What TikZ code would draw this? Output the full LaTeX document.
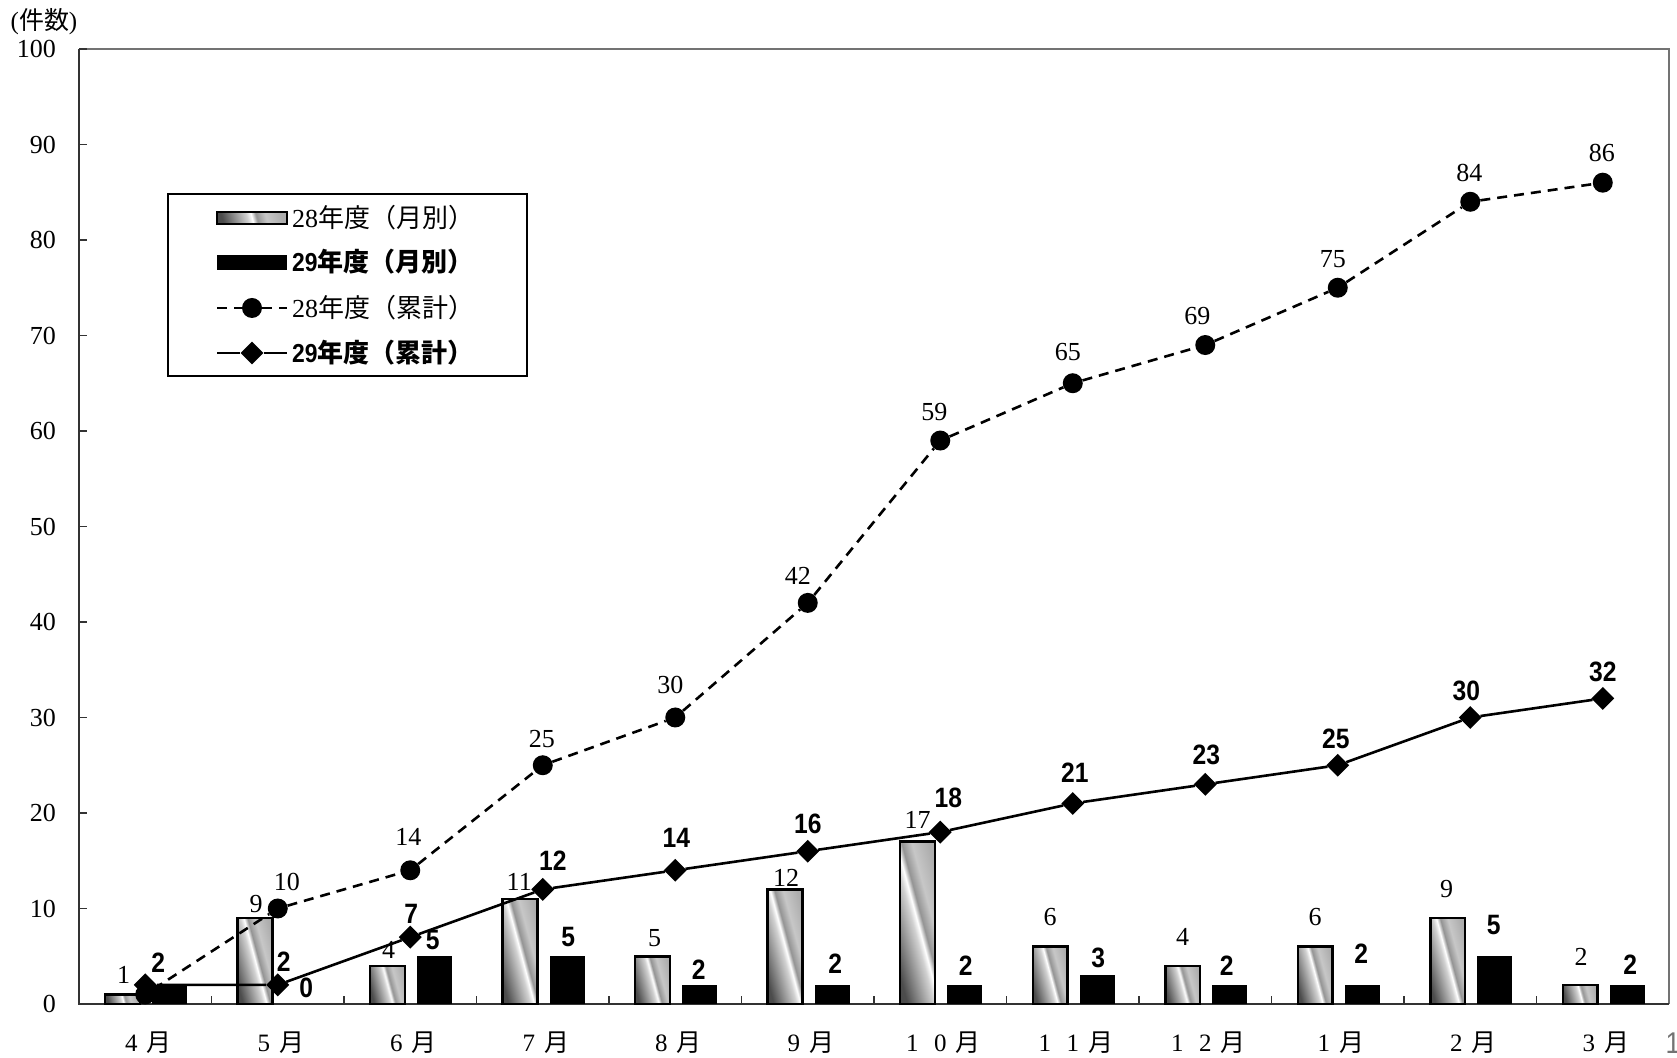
\documentclass[tikz,border=0pt]{standalone}
\usepackage{fontspec}
\setmainfont{Liberation Serif}
\newfontfamily\jpfont{Noto Sans CJK JP}
\newfontfamily\gothnum{Liberation Sans}[FakeStretch=0.88]
\usetikzlibrary{positioning,shapes.geometric}

\pgfdeclarehorizontalshading{metal}{100bp}{color(0bp)=(black!75); color(25bp)=(black!70); color(38bp)=(black!38); color(46bp)=(black!18); color(50bp)=(white); color(54bp)=(black!42); color(62bp)=(black!22); color(75bp)=(black!32); color(100bp)=(black!32)}

\newcommand\fw[1]{\makebox[28pt]{#1}}

\tikzset{
  bar28/.style={draw=black, line width=2.5pt, shading=metal, shading angle=15},
  bar29/.style={fill=black},
  dot/.style={circle, fill=black, inner sep=0pt, minimum size=20pt},
  dmd/.style={diamond, fill=black, inner sep=0pt, minimum size=23pt},
  cum28/.style={line width=2.6pt, dash pattern=on 10pt off 7pt},
  cum29/.style={line width=2.6pt},
  num28/.style={font=\fontsize{26}{28}\selectfont, inner sep=0pt, on grid},
  num29/.style={font=\gothnum\bfseries\fontsize{28}{30}\selectfont, inner sep=0pt, on grid},
  ylab/.style={anchor=east, font=\fontsize{26}{28}\selectfont, inner sep=0pt},
  mlab/.style={font=\fontsize{25}{27}\selectfont, inner sep=0pt},
  legtext/.style={anchor=west, inner sep=0pt, font=\fontsize{26}{28}\selectfont}
}

\begin{document}
\begin{tikzpicture}[x=1pt, y=1pt]
  \useasboundingbox (0,0) rectangle (1677,1057);

  % frame and axes
  \draw[line width=2pt, black!55] (79,1008) -- (1669,1008) -- (1669,53);
  \draw[line width=2pt, black!80] (79,1008) -- (79,53) -- (1669,53);
  \foreach \k in {1,...,10}
    \draw[line width=1.5pt, black!80] (79,53+95.5*\k) -- (87,53+95.5*\k);
  \foreach \k in {1,...,11}
    \draw[line width=1.5pt, black!80] (79+132.5*\k,53) -- (79+132.5*\k,61);

  \draw
    (56,53) node[ylab] (y0){0}
    (56,148.5) node[ylab] (y1){10}
    (56,244) node[ylab] (y2){20}
    (56,339.5) node[ylab] (y3){30}
    (56,435) node[ylab] (y4){40}
    (56,530.5) node[ylab] (y5){50}
    (56,626) node[ylab] (y6){60}
    (56,721.5) node[ylab] (y7){70}
    (56,817) node[ylab] (y8){80}
    (56,912.5) node[ylab] (y9){90}
    (56,1008) node[ylab] (y10){100};
  \node[font=\fontsize{25}{27}\selectfont, inner sep=0pt] (unit) at (44,1035) {({\jpfont 件数})};

  \draw
    (145.25,14) node[mlab] (m1){\fw{4}\fw{\jpfont 月}}
    (277.75,14) node[mlab] (m2){\fw{5}\fw{\jpfont 月}}
    (410.25,14) node[mlab] (m3){\fw{6}\fw{\jpfont 月}}
    (542.75,14) node[mlab] (m4){\fw{7}\fw{\jpfont 月}}
    (675.25,14) node[mlab] (m5){\fw{8}\fw{\jpfont 月}}
    (807.75,14) node[mlab] (m6){\fw{9}\fw{\jpfont 月}}
    (940.25,14) node[mlab] (m7){\fw{1}\fw{0}\fw{\jpfont 月}}
    (1072.75,14) node[mlab] (m8){\fw{1}\fw{1}\fw{\jpfont 月}}
    (1205.25,14) node[mlab] (m9){\fw{1}\fw{2}\fw{\jpfont 月}}
    (1337.75,14) node[mlab] (m10){\fw{1}\fw{\jpfont 月}}
    (1470.25,14) node[mlab] (m11){\fw{2}\fw{\jpfont 月}}
    (1602.75,14) node[mlab] (m12){\fw{3}\fw{\jpfont 月}};
  \node[font=\fontsize{30}{32}\selectfont\gothnum, text=black!55, inner sep=0pt] (pg) at (1673,14) {1};

  \begin{scope}[shift={(79,53)}, x=132.5pt, y=9.55pt]
    % monthly bars
    \foreach \i/\v in {1/1,2/9,3/4,4/11,5/5,6/12,7/17,8/6,9/4,10/6,11/9,12/2}
      \draw[bar28] (\i-0.802,0) rectangle (\i-0.538,\v);
    \foreach \i/\v in {1/2,3/5,4/5,5/2,6/2,7/2,8/3,9/2,10/2,11/5,12/2}
      \fill[bar29] (\i-0.447,0) rectangle (\i-0.183,\v);

    \foreach \i/\v/\t/\dx/\dy in {1/1/1/1/20, 2/9/9/1/14, 3/4/4/1/16, 4/11/11/-1/17,
        5/5/5/2/18, 6/12/12/1/12, 7/17/17/0/22, 8/6/6/0/30, 9/4/4/0/29,
        10/6/6/0/30, 11/9/9/-1/29, 12/2/2/1/28}
      \node[num28, xshift=\dx pt, yshift=\dy pt] at (\i-0.67,\v) {\t};
    \foreach \i/\v/\t/\dx/\dy in {2/0/0/4/16, 3/5/5/-2/16, 4/5/5/1/19,
        5/2/2/-1/15, 6/2/2/3/21, 7/2/2/1/19, 8/3/3/1/17, 9/2/2/-3/19,
        10/2/2/-1/31, 11/5/5/-1/31, 12/2/2/3/20}
      \node[num29, xshift=\dx pt, yshift=\dy pt] at (\i-0.315,\v) {\t};

    % cumulative markers
    \draw
      (0.5,1) node[dot] (p1){}
      (1.5,10) node[dot] (p2){}
      (2.5,14) node[dot] (p3){}
      (3.5,25) node[dot] (p4){}
      (4.5,30) node[dot] (p5){}
      (5.5,42) node[dot] (p6){}
      (6.5,59) node[dot] (p7){}
      (7.5,65) node[dot] (p8){}
      (8.5,69) node[dot] (p9){}
      (9.5,75) node[dot] (p10){}
      (10.5,84) node[dot] (p11){}
      (11.5,86) node[dot] (p12){};
    \draw[cum28] (p1) -- (p2) -- (p3) -- (p4) -- (p5) -- (p6) -- (p7)
      -- (p8) -- (p9) -- (p10) -- (p11) -- (p12);

    \draw
      (0.5,2) node[dmd] (q1){}
      (1.5,2) node[dmd] (q2){}
      (2.5,7) node[dmd] (q3){}
      (3.5,12) node[dmd] (q4){}
      (4.5,14) node[dmd] (q5){}
      (5.5,16) node[dmd] (q6){}
      (6.5,18) node[dmd] (q7){}
      (7.5,21) node[dmd] (q8){}
      (8.5,23) node[dmd] (q9){}
      (9.5,25) node[dmd] (q10){}
      (10.5,30) node[dmd] (q11){}
      (11.5,32) node[dmd] (q12){};
    \draw[cum29] (q1) -- (q2) -- (q3) -- (q4) -- (q5) -- (q6) -- (q7)
      -- (q8) -- (q9) -- (q10) -- (q11) -- (q12);

    % cumulative labels
    \node[num28, above=27pt of p2, xshift=9pt] (lp2) {10};
    \node[num28, above=33pt of p3, xshift=-2pt] (lp3) {14};
    \node[num28, above=26pt of p4, xshift=-1pt] (lp4) {25};
    \node[num28, above=33pt of p5, xshift=-5pt] (lp5) {30};
    \node[num28, above=27pt of p6, xshift=-10pt] (lp6) {42};
    \node[num28, above=29pt of p7, xshift=-6pt] (lp7) {59};
    \node[num28, above=31pt of p8, xshift=-5pt] (lp8) {65};
    \node[num28, above=29pt of p9, xshift=-8pt] (lp9) {69};
    \node[num28, above=29pt of p10, xshift=-5pt] (lp10) {75};
    \node[num28, above=29pt of p11, xshift=-1pt] (lp11) {84};
    \node[num28, above=30pt of p12, xshift=-1pt] (lp12) {86};

    \node[num29, above=22pt of q1, xshift=13pt] (lq1) {2};
    \node[num29, above=23pt of q2, xshift=6pt] (lq2) {2};
    \node[num29, above=23pt of q3, xshift=1pt] (lq3) {7};
    \node[num29, above=29pt of q4, xshift=10pt] (lq4) {12};
    \node[num29, above=32pt of q5, xshift=1pt] (lq5) {14};
    \node[num29, above=27pt of q6] (lq6) {16};
    \node[num29, above=34pt of q7, xshift=8pt] (lq7) {18};
    \node[num29, above=31pt of q8, xshift=2pt] (lq8) {21};
    \node[num29, above=29pt of q9, xshift=1pt] (lq9) {23};
    \node[num29, above=26pt of q10, xshift=-2pt] (lq10) {25};
    \node[num29, above=27pt of q11, xshift=-4pt] (lq11) {30};
    \node[num29, above=27pt of q12] (lq12) {32};
  \end{scope}

  % legend
  \draw[line width=2.5pt, fill=white] (168,863) rectangle (527,681);
  \draw[bar28, line width=2pt] (217,833) rectangle (287,845);
  \fill[bar29] (217,787) rectangle (287,802);
  \coordinate (la) at (217,749);
  \coordinate (lb) at (287,749);
  \node[dot] (lm3) at (252,749) {};
  \draw[cum28] (la) -- (lm3) -- (lb);
  \coordinate (lc) at (217,704);
  \coordinate (ld) at (287,704);
  \node[dmd] (lm4) at (252,704) {};
  \draw[cum29] (lc) -- (lm4) -- (ld);
  \node[legtext] (t1) at (292,839) {28{\jpfont 年度（月別）}};
  \node[legtext] (t2) at (292,795) {{\gothnum\bfseries 29}{\jpfont\bfseries 年度（月別）}};
  \node[legtext] (t3) at (292,749) {28{\jpfont 年度（累計）}};
  \node[legtext] (t4) at (292,704) {{\gothnum\bfseries 29}{\jpfont\bfseries 年度（累計）}};
\end{tikzpicture}
\end{document}
